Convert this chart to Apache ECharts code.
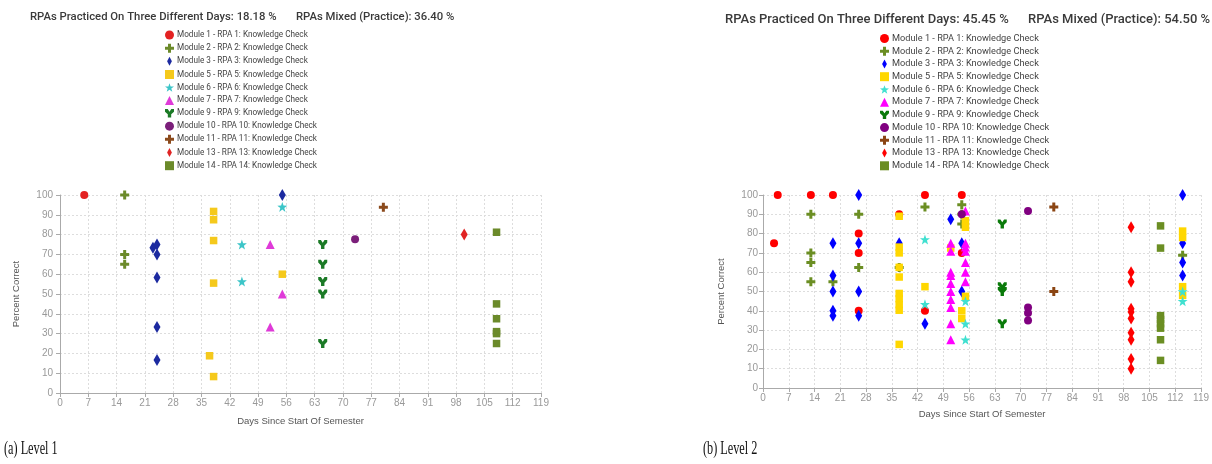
<!DOCTYPE html>
<html><head><meta charset="utf-8">
<script src="https://cdn.jsdelivr.net/npm/echarts@6.0.0/dist/echarts.min.js"></script>
<style>html,body{margin:0;padding:0;background:#fff}#c{width:1212px;height:464px}</style>
</head><body><div id="c"></div>
<script>
// ---- data ----
const MODULE_NAMES = [
  'Module 1 - RPA 1: Knowledge Check',
  'Module 2 - RPA 2: Knowledge Check',
  'Module 3 - RPA 3: Knowledge Check',
  'Module 5 - RPA 5: Knowledge Check',
  'Module 6 - RPA 6: Knowledge Check',
  'Module 7 - RPA 7: Knowledge Check',
  'Module 9 - RPA 9: Knowledge Check',
  'Module 10 - RPA 10: Knowledge Check',
  'Module 11 - RPA 11: Knowledge Check',
  'Module 13 - RPA 13: Knowledge Check',
  'Module 14 - RPA 14: Knowledge Check'
];
const X_TICKS = [0, 7, 14, 21, 28, 35, 42, 49, 56, 63, 70, 77, 84, 91, 98, 105, 112, 119];
const Y_TICKS = [0, 10, 20, 30, 40, 50, 60, 70, 80, 90, 100];

const TITLE1_A = 'RPAs Practiced On Three Different Days: 18.18 %';
const TITLE1_B = 'RPAs Mixed (Practice): 36.40 %';
const TITLE2_A = 'RPAs Practiced On Three Different Days: 45.45 %';
const TITLE2_B = 'RPAs Mixed (Practice): 54.50 %';

// Level 1 points [day, percent]
const L1_M1 = [[6,100]];
const L1_M2 = [[16,100],[16,70],[16,65]];
const L1_M3 = [[23,73.3],[24,75],[24,70],[24,58.3],[24,33.3],[24,16.7],[55,100]];
const L1_M5 = [[38,91.7],[38,87.5],[38,77],[38,55.5],[37,18.8],[38,8.3],[55,60]];
const L1_M6 = [[45,75],[45,56.3],[55,94]];
const L1_M7 = [[52,75],[55,50],[52,33.3]];
const L1_M9 = [[65,75],[65,65],[65,56.3],[65,50],[65,25]];
const L1_M10 = [[73,77.7]];
const L1_M11 = [[80,93.8]];
const L1_M13 = [[100,80]];
const L1_M14 = [[108,81.2],[108,45],[108,37.5],[108,31],[108,30],[108,25]];

// Level 2 points [day, percent]
const L2_M1 = [[3,75],[4,100],[13,100],[19,100],[26,80],[26,70],[26,40],[37,90],[44,100],[44,40],[54,100],[54,70]];
const L2_M2 = [[13,90],[13,70],[13,65],[13,55],[19,55],[26,90],[26,62.5],[37,62.5],[44,93.8],[54,95],[54,90],[54,85],[114,68.8]];
const L2_M3 = [[19,75],[19,58.3],[19,50],[19,40],[19,37.5],[26,100],[26,75],[26,50],[26,37.5],[37,75],[44,33.3],[51,87.5],[54,75],[54,50],[114,100],[114,75],[114,65],[114,58.3]];
const L2_M5 = [[37,89],[37,73],[37,70],[37,62.5],[37,57.5],[37,49],[37,46.3],[37,43.2],[37,40.3],[37,22.6],[44,52.5],[51,72.5],[54,40],[54,36],[55,86.7],[55,83.3],[55,47.5],[114,81.3],[114,78],[114,52.5],[114,48]];
const L2_M6 = [[44,77],[44,43.4],[55,45],[55,33.3],[55,25],[114,50],[114,45]];
const L2_M7 = [[51,75],[51,70.8],[51,60],[51,58.3],[51,54.2],[51,50],[51,45.8],[51,41.7],[51,33.3],[51,25],[55,91.7],[55,75],[55,73],[55,70.8],[55,65],[55,60],[55,55]];
const L2_M9 = [[65,85],[65,52.5],[65,50],[65,33.3]];
const L2_M10 = [[54,90],[72,91.7],[72,41.7],[72,38.9],[72,35]];
const L2_M11 = [[79,93.8],[79,50]];
const L2_M13 = [[100,83.3],[100,60],[100,55],[100,41],[100,39.4],[100,36],[100,28.6],[100,25],[100,15],[100,10]];
const L2_M14 = [[108,84],[108,72.5],[108,37.5],[108,35.5],[108,33.3],[108,31],[108,25],[108,14.3]];

const LEVEL1 = [L1_M1,L1_M2,L1_M3,L1_M5,L1_M6,L1_M7,L1_M9,L1_M10,L1_M11,L1_M13,L1_M14];
const LEVEL2 = [L2_M1,L2_M2,L2_M3,L2_M5,L2_M6,L2_M7,L2_M9,L2_M10,L2_M11,L2_M13,L2_M14];

// ---- styles ----
const PLUS = 'path://M-1,-3H1V-1H3V1H1V3H-1V1H-3V-1H-1Z';
const DIAMOND = 'path://M0,-6L3.2,0L0,6L-3.2,0Z';
const STAR = 'path://M0,-10L2.35,-3.24L9.51,-3.09L3.8,1.24L5.88,8.09L0,4L-5.88,8.09L-3.8,1.24L-9.51,-3.09L-2.35,-3.24Z';
const WYE = 'path://M-4,-3.5L-1.6,-3.5L0,-1.2L1.6,-3.5L4,-3.5L4,-1.2L1.5,1.2L1.5,4L-1.5,4L-1.5,1.2L-4,-1.2Z';
const SYMBOLS = ['circle', PLUS, DIAMOND, 'rect', STAR, 'triangle', WYE, 'circle', PLUS, DIAMOND, 'rect'];
const SIZES = [8, 9, [7,12], 7.5, 10, 9, 9, 8, 9, [7,12], 7.5];
const COLORS1 = ['#e32222','#6b8a2a','#1c2aa0','#f5c91c','#3cc5c8','#df3ad8','#1b7a26','#7b1f7a','#8b4a1c','#e02424','#6b8a2a'];
const COLORS2 = ['#ff0000','#6b8e23','#0000ff','#ffd700','#40e0d0','#ff00ff','#0a7a0a','#800080','#8b4513','#ff0000','#6b8e23'];

const GRAY = '#999';
function makeAxes(idx, labelMarginX, labelMarginY, nameGapX, nameGapY) {
  const x = {
    type: 'value', gridIndex: idx, min: 0, max: 119, interval: 7,
    name: 'Days Since Start Of Semester', nameLocation: 'middle', nameGap: nameGapX,
    nameTextStyle: {color: '#555', fontSize: 9.5, fontFamily: 'Liberation Sans'},
    axisLine: {show: true, lineStyle: {color: '#aaa'}},
    axisTick: {show: true, length: 4, lineStyle: {color: '#aaa'}},
    axisLabel: {color: GRAY, fontSize: 10, margin: labelMarginX, fontFamily: 'Liberation Sans'},
    splitLine: {show: true, lineStyle: {color: '#ddd', type: [2,2]}}
  };
  const y = {
    type: 'value', gridIndex: idx, min: 0, max: 100, interval: 10,
    name: 'Percent Correct', nameLocation: 'middle', nameGap: nameGapY,
    nameTextStyle: {color: '#555', fontSize: 9.5, fontFamily: 'Liberation Sans'},
    axisLine: {show: true, lineStyle: {color: '#aaa'}},
    axisTick: {show: true, length: 4, lineStyle: {color: '#aaa'}},
    axisLabel: {color: GRAY, fontSize: 10, margin: labelMarginY, fontFamily: 'Liberation Sans'},
    splitLine: {show: true, lineStyle: {color: '#ddd', type: [2,2]}}
  };
  return [x, y];
}
const [x1, y1] = makeAxes(0, 5, 7, 23, 39);
const [x2, y2] = makeAxes(1, 5, 5, 21, 37);

function legendFor(colors, left, top, fontSize, gap) {
  return {
    orient: 'vertical', left: left, top: top, padding: 0,
    itemWidth: 9, itemHeight: 9, itemGap: gap,
    selectedMode: false,
    textStyle: {color: '#444', fontSize: fontSize, fontFamily: 'Roboto', padding: [0,0,0,-2]},
    data: MODULE_NAMES.map((n, i) => ({name: n, icon: SYMBOLS[i], itemStyle: {color: colors[i]}}))
  };
}

const series = [];
[[LEVEL1, COLORS1, 0], [LEVEL2, COLORS2, 1]].forEach(([lvl, colors, gi]) => {
  lvl.forEach((pts, i) => {
    series.push({
      type: 'scatter', name: MODULE_NAMES[i], xAxisIndex: gi, yAxisIndex: gi,
      symbol: SYMBOLS[i], symbolSize: SIZES[i], symbolKeepAspect: false,
      itemStyle: {color: colors[i], opacity: 1},
      data: pts, animation: false
    });
  });
});

const titleStyle = (fs) => ({color: '#3a3a3a', fontSize: fs, fontWeight: 500, fontFamily: 'Roboto'});
const option = {
  animation: false,
  title: [
    {text: TITLE1_A, left: 30, top: 12, padding: 0, textStyle: titleStyle(11.3)},
    {text: TITLE1_B, left: 296, top: 12, padding: 0, textStyle: titleStyle(11.3)},
    {text: TITLE2_A, left: 725, top: 13, padding: 0, textStyle: titleStyle(13)},
    {text: TITLE2_B, left: 1028, top: 13, padding: 0, textStyle: titleStyle(13)}
  ],
  legend: [
    legendFor(COLORS1, 165, 30.5, 8.2, 4.17),
    legendFor(COLORS2, 880, 34, 9.2, 3.73)
  ],
  grid: [
    {left: 60, right: 671, top: 195, bottom: 71, containLabel: false},
    {left: 763, right: 6, top: 195, bottom: 76, containLabel: false}
  ],
  xAxis: [x1, x2],
  yAxis: [y1, y2],
  series: series,
  graphic: [
    {type: 'text', left: 4, top: 440, style: {text: '(a) Level 1', font: '18px "Liberation Serif"', fill: '#111'}, scaleX: 0.68},
    {type: 'text', left: 703, top: 440, style: {text: '(b) Level 2', font: '18px "Liberation Serif"', fill: '#111'}, scaleX: 0.68}
  ]
};
const chart = echarts.init(document.getElementById('c'), null, {renderer: 'canvas'});
chart.setOption(option);
</script></body></html>
